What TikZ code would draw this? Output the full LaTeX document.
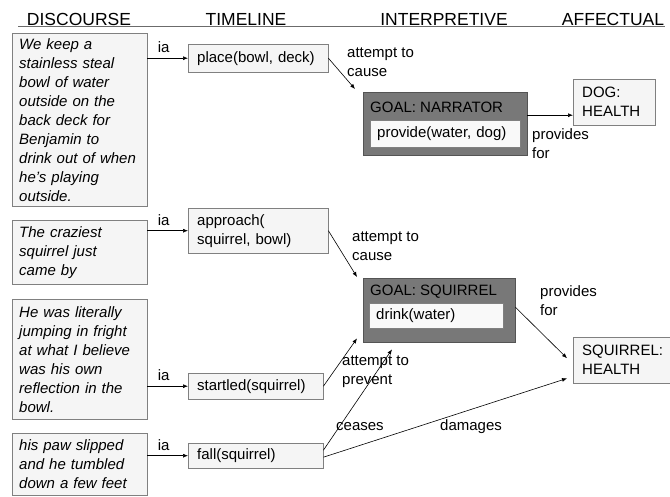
\documentclass[tikz,border=0pt]{standalone}
\usepackage{fontspec}
\setmainfont{Liberation Sans}
\usetikzlibrary{arrows.meta}

\definecolor{boxfill}{gray}{0.96}
\definecolor{boxline}{gray}{0.5}
\definecolor{goalfill}{gray}{0.47}
\definecolor{goalline}{gray}{0.33}
\definecolor{innerfill}{gray}{0.975}
\definecolor{rulegray}{gray}{0.42}

\tikzset{
  hdr/.style={font=\fontsize{17.5}{21}\selectfont, anchor=base},
  discbox/.style={draw=boxline, fill=boxfill, anchor=north west, font=\itshape,
    align=left, text width=121pt, inner xsep=7pt, inner ysep=3pt},
  tlbox/.style={draw=boxline, fill=boxfill, anchor=north west, align=left,
    text width=122pt, inner xsep=9pt, inner ysep=2pt, minimum height=26pt},
  goalbox/.style={draw=goalline, fill=goalfill, anchor=north west, inner sep=0pt},
  goalname/.style={anchor=west, inner sep=0pt},
  innerbox/.style={draw=boxline, fill=innerfill, anchor=north west, align=left,
    inner xsep=7pt, inner ysep=2pt},
  affbox/.style={draw=boxline, fill=boxfill, anchor=north west, align=left,
    inner xsep=9pt, inner ysep=3pt, minimum height=46pt},
  lbl/.style={anchor=west, align=left, inner sep=0pt},
  rel/.style={-{Latex[length=5pt,width=4pt]}, line width=0.6pt},
}

\begin{document}
\fontsize{15}{19}\selectfont
\begin{tikzpicture}[x=1pt, y=-1pt]
\useasboundingbox (0,0) rectangle (670,496);

% column heads
\node[hdr] (hDisc) at (79,25) {DISCOURSE};
\node[hdr] (hTime) at (246,25) {TIMELINE};
\node[hdr] (hInt) at (444,25) {INTERPRETIVE};
\node[hdr] (hAff) at (613,25) {AFFECTUAL};
\draw[rulegray, line width=1.5pt] (18,26.5) -- (665,26.5);

% discourse
\node[discbox, minimum height=173pt] (d1) at (12,33) {We keep a\\stainless steal\\bowl of water\\outside on the\\back deck for\\Benjamin to\\drink out of when\\he’s playing\\outside.};
\node[discbox, minimum height=64pt] (d2) at (12,220) {The craziest\\squirrel just\\came by};
\node[discbox, minimum height=120pt] (d3) at (12,299) {He was literally\\jumping in fright\\at what I believe\\was his own\\reflection in the\\bowl.};
\node[discbox, minimum height=62pt] (d4) at (12,433) {his paw slipped\\and he tumbled\\down a few feet};

% timeline
\node[tlbox, minimum height=28pt] (place) at (188,44) {place(bowl, deck)};
\node[tlbox, minimum height=45pt] (appr) at (188,208) {approach(\\squirrel, bowl)};
\node[tlbox, text width=117pt] (startle) at (188,373) {startled(squirrel)};
\node[tlbox, text width=117pt, minimum height=25pt] (fall) at (188,443) {fall(squirrel)};

% goals
\node[goalbox, minimum width=164pt, minimum height=63pt] (gNar) at (363,92) {};
\node[goalname] (gNarT) at ([xshift=7pt,yshift=-15pt]gNar.north west) {GOAL: NARRATOR};
\node[innerbox, text width=136pt, minimum height=27pt] (gNarA) at ([xshift=7pt,yshift=-28pt]gNar.north west) {provide(water, dog)};

\node[goalbox, minimum width=152pt, minimum height=64pt] (gSq) at (363,278) {};
\node[goalname] (gSqT) at ([xshift=7pt,yshift=-14pt]gSq.north west) {GOAL: SQUIRREL};
\node[innerbox, text width=120pt, minimum height=25pt] (gSqA) at ([xshift=6pt,yshift=-25pt]gSq.north west) {drink(water)};

% affect
\node[affbox, text width=64pt] (dogH) at (573,79) {DOG:\\HEALTH};
\node[affbox, text width=84pt] (sqH) at (573,337) {SQUIRREL:\\HEALTH};

% ia links
\draw[rel] (d1.east |- place.west) -- node[pos=0.4, above] (ia1) {ia} (place.west);
\draw[rel] (d2.east |- appr.west) -- node[pos=0.4, above] (ia2) {ia} (appr.west);
\draw[rel] (d3.east |- startle.west) -- node[pos=0.4, above] (ia3) {ia} (startle.west);
\draw[rel] (d4.east |- fall.west) -- node[pos=0.4, above] (ia4) {ia} (fall.west);

% interpretive links
\draw[rel] (place.east) -- ([xshift=-8pt,yshift=3pt]gNar.north west);
\node[lbl] (lCause1) at (347,62) {attempt to\\cause};
\draw[rel] (appr.east) -- ([xshift=-6pt,yshift=1pt]gSq.north west);
\node[lbl] (lCause2) at (352,246) {attempt to\\cause};
\draw[rel] (startle.east) -- ([xshift=-6pt,yshift=4pt]gSq.south west);
\node[lbl] (lPrev) at (342,371.5) {attempt to\\prevent};
\draw[rel] ([yshift=5.5pt]fall.east) -- ([xshift=29pt,yshift=-7pt]gSq.south west);
\node[lbl] (lCease) at (336,427) {ceases};
\draw[rel] ([yshift=-1.5pt]fall.east) -- ([xshift=-6pt,yshift=5pt]sqH.south west);
\node[lbl] (lDam) at (440,427) {damages};

% affect links
\draw[rel] ([yshift=8.5pt]gNar.east) -- ([yshift=-13pt]dogH.west);
\node[lbl] (lProv1) at (532,144) {provides\\for};
\draw[rel] ([yshift=3pt]gSq.east) -- ([xshift=-6pt,yshift=2pt]sqH.west);
\node[lbl] (lProv2) at (540,301) {provides\\for};

\end{tikzpicture}
\end{document}
